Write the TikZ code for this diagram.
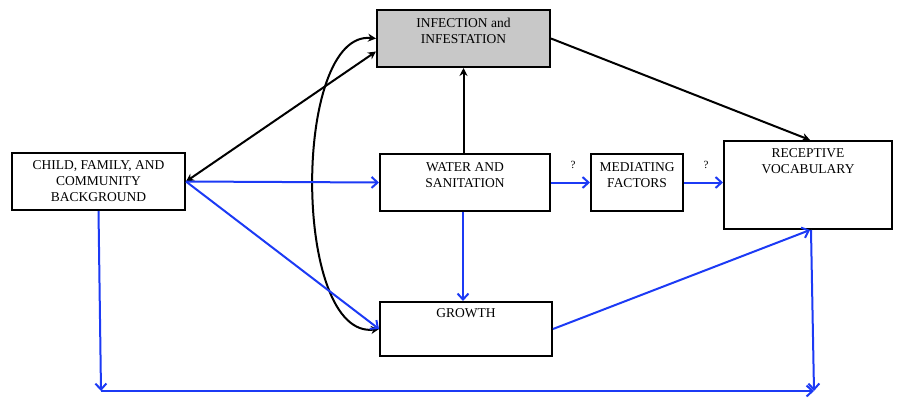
\documentclass[tikz,border=0pt]{standalone}
\usepackage{fontspec}
\setmainfont{Liberation Serif}
\usetikzlibrary{arrows.meta,calc}
\definecolor{bl}{RGB}{28,58,245}
\definecolor{gr}{RGB}{200,200,200}
\tikzset{
  box/.style={draw, line width=2pt, inner sep=0pt},
  lbl/.style={font=\fontsize{13.5}{16}\selectfont, align=center, inner sep=0pt},
  qlbl/.style={font=\fontsize{11}{13}\selectfont, inner sep=0pt},
  barrow/.style={draw=bl, line width=2pt, -{Straight Barb[length=6pt,width=11pt]}},
  karrow/.style={draw=black, line width=2pt, -{Stealth[length=8pt,width=8pt]}},
  kdarrow/.style={draw=black, line width=2pt, {Stealth[length=8pt,width=8pt]}-{Stealth[length=8pt,width=8pt]}}
}
\begin{document}
\begin{tikzpicture}[x=1pt,y=-1pt]
\useasboundingbox (0,0) rectangle (903,399);
% boxes
\node[box, minimum width=173pt, minimum height=57pt, lbl] (child) at (98.5,181.5) {CHILD, FAMILY, AND\\COMMUNITY\\BACKGROUND};
\node[box, fill=gr, minimum width=173pt, minimum height=57pt] (inf) at (463.5,38.5) {};
\node[box, minimum width=170pt, minimum height=57pt] (water) at (465,182.5) {};
\node[box, minimum width=92pt, minimum height=57pt] (med) at (637,182.5) {};
\node[box, minimum width=168pt, minimum height=88pt] (rec) at (808,185) {};
\node[box, minimum width=172pt, minimum height=54pt] (growth) at (466,329) {};
% texts
\node[lbl] (infT) at ($(inf.center)+(0,-7.5)$) {INFECTION and\\INFESTATION};
\node[lbl] (waterT) at ($(water.center)+(0,-7.5)$) {WATER AND\\SANITATION};
\node[lbl] (medT) at ($(med.center)+(0,-7.5)$) {MEDIATING\\FACTORS};
\node[lbl] (recT) at ($(rec.center)+(0,-23.5)$) {RECEPTIVE\\VOCABULARY};
\node[lbl] (growthT) at ($(growth.center)+(0,-16)$) {GROWTH};
\node[qlbl] (q1) at (573,165) {?};
\node[qlbl] (q2) at (706,165) {?};
% corners
\coordinate (c1) at (101,391);
\coordinate (c2) at (814,391);
% black connectors
\draw[karrow] (inf.east) -- ([xshift=2pt]rec.north);
\draw[karrow] (inf.south |- water.north) -- (inf.south);
\draw[kdarrow] (child.east) -- ([yshift=-13pt]inf.west);
\draw[kdarrow] (inf.west) .. controls (292,30) and (292,340) .. (growth.west);
% blue connectors
\draw[barrow] (child.east) -- (water.west);
\draw[barrow] (child.east) -- (growth.west);
\draw[barrow] ([xshift=-2pt]water.south) -- ([xshift=-2pt]water.south |- growth.north);
\draw[barrow] (water.east) -- (med.west);
\draw[barrow] (med.east) -- (rec.west |- med.east);
\draw[barrow] (growth.east) -- ([xshift=2pt]rec.south);
\draw[barrow] (child.south) -- (c1);
\draw[barrow] (c1) -- (c2);
\draw[barrow] ([xshift=3pt]rec.south) -- (c2);
\end{tikzpicture}
\end{document}
